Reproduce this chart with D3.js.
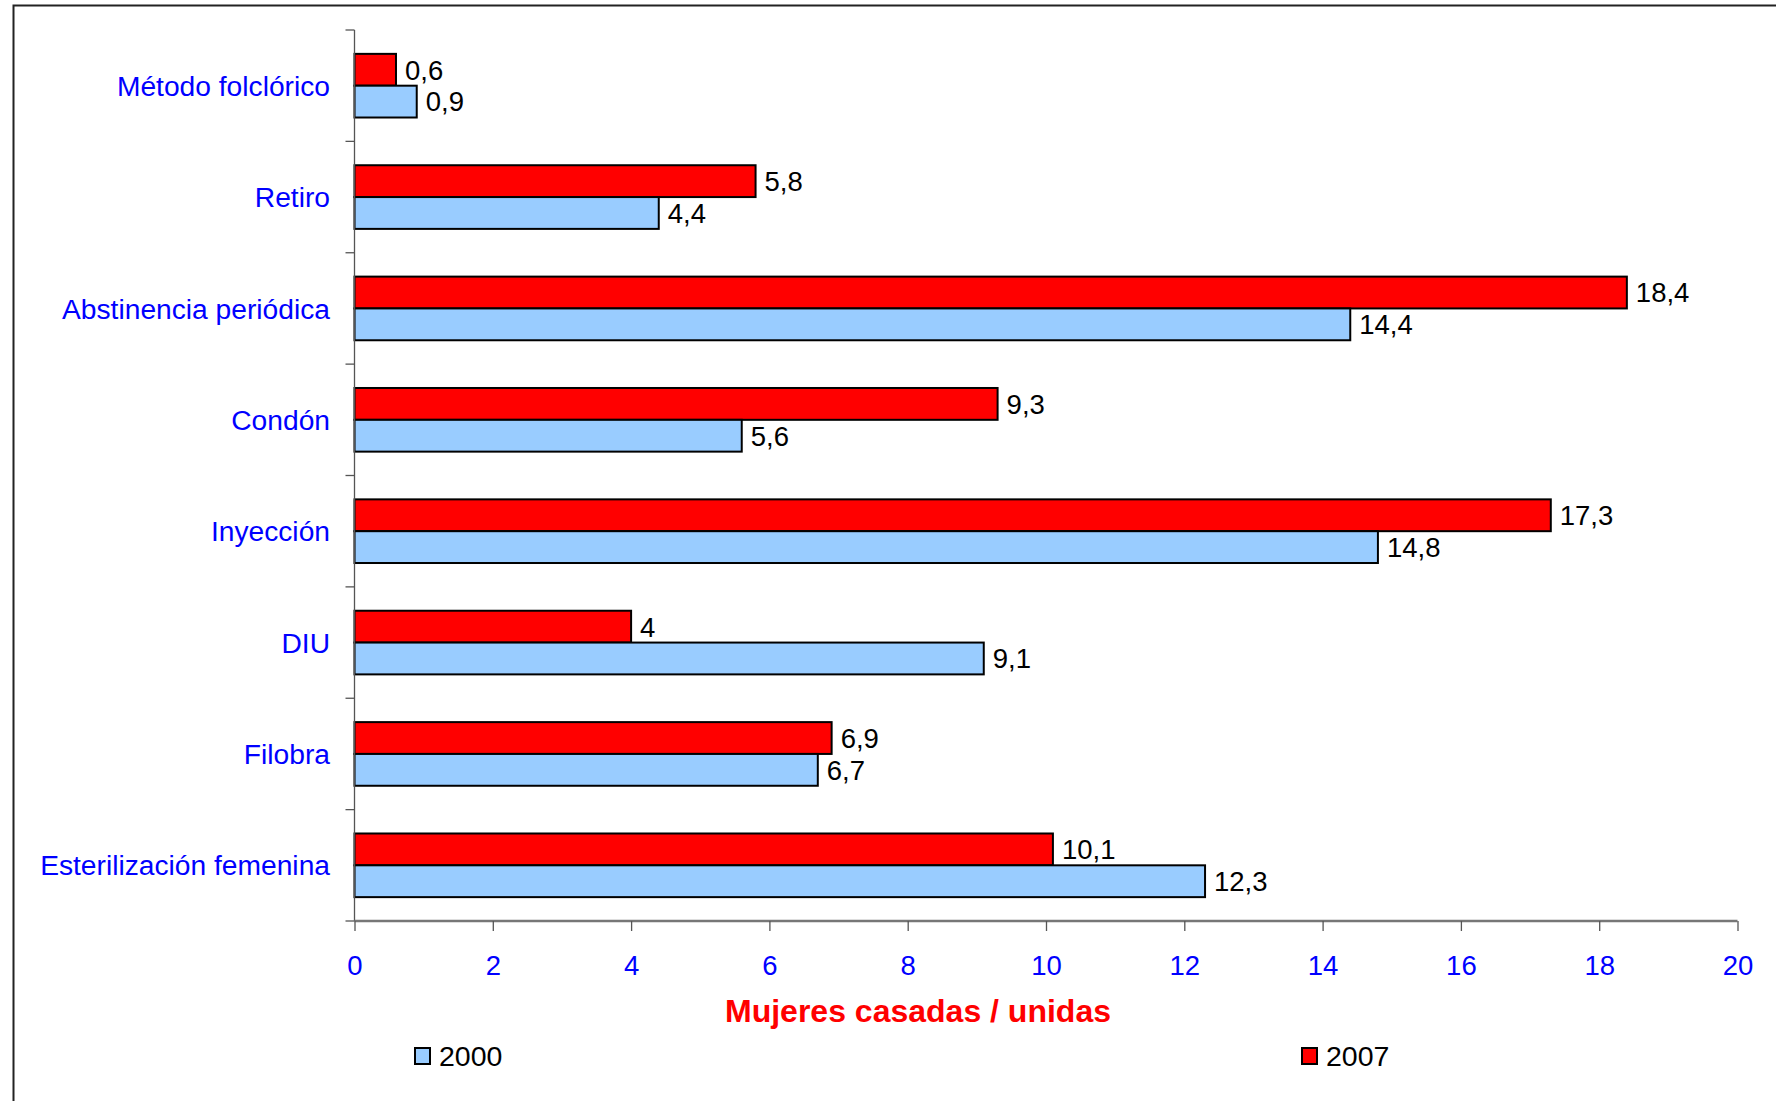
<!DOCTYPE html>
<html><head><meta charset="utf-8">
<script src="https://cdn.jsdelivr.net/npm/d3@7"></script>
<style>html,body{margin:0;padding:0;background:#fff;}svg{display:block;}</style>
</head><body>
<script>
const categories = ["Método folclórico","Retiro","Abstinencia periódica","Condón","Inyección","DIU","Filobra","Esterilización femenina"];
const series = ["2007","2000"];
const values2007 = [0.6, 5.8, 18.4, 9.3, 17.3, 4, 6.9, 10.1];
const values2000 = [0.9, 4.4, 14.4, 5.6, 14.8, 9.1, 6.7, 12.3];
const labels2007 = ["0,6","5,8","18,4","9,3","17,3","4","6,9","10,1"];
const labels2000 = ["0,9","4,4","14,4","5,6","14,8","9,1","6,7","12,3"];
const xTicks = [0,2,4,6,8,10,12,14,16,18,20];
const axisTitle = "Mujeres casadas / unidas";
const legendItems = ["2000","2007"];

const W = 1776, H = 1101;
const colors = {"2007":"#ff0000","2000":"#99ccff"};
const font = "'Liberation Sans', Arial, sans-serif";

const svg = d3.select("body").append("svg").attr("width", W).attr("height", H);
svg.append("rect").attr("width", W).attr("height", H).attr("fill", "#fff");

// frame (top and left edges visible)
svg.append("path").attr("d", `M13.5,${H} L13.5,5.5 L${W},5.5`).attr("fill","none").attr("stroke","#222").attr("stroke-width",2);

const m = {left:354.5, right:1737.5, top:30, bottom:921};
const x = d3.scaleLinear().domain([0,20]).range([m.left, m.right]);
const y = d3.scaleBand().domain(categories).range([m.top, m.bottom]).paddingInner(0).paddingOuter(0);
const yInner = d3.scaleBand().domain(series).range([0, y.bandwidth()]).paddingInner(0).paddingOuter(0.75);

const rows = categories.map((c,i)=>({cat:c, "2007":values2007[i], "2000":values2000[i], l2007:labels2007[i], l2000:labels2000[i]}));

// bars
const g = svg.append("g");
rows.forEach(r=>{
  series.forEach(s=>{
    g.append("rect")
      .attr("x", x(0)).attr("y", y(r.cat)+yInner(s))
      .attr("width", x(r[s])-x(0)).attr("height", yInner.bandwidth())
      .attr("fill", colors[s]).attr("stroke","#000").attr("stroke-width",2);
    g.append("text")
      .attr("x", x(r[s])+9).attr("y", y(r.cat)+yInner(s)+yInner.bandwidth()/2)
      .attr("dy","0.36em").attr("font-family",font).attr("font-size",27.5).attr("fill","#000")
      .text(r["l"+s]);
  });
});

// y axis line and ticks at band boundaries
svg.append("line").attr("x1",x(0)).attr("x2",x(0)).attr("y1",m.top).attr("y2",m.bottom).attr("stroke","#555").attr("stroke-width",1.3);
const bounds = categories.map(c=>y(c)).concat([m.bottom]);
svg.selectAll(".yt").data(bounds).join("line")
  .attr("x1",x(0)-9).attr("x2",x(0)).attr("y1",d=>d).attr("y2",d=>d)
  .attr("stroke","#555").attr("stroke-width",1.3);
// category labels
svg.selectAll(".cl").data(categories).join("text")
  .attr("x",330).attr("y",d=>y(d)+y.bandwidth()/2).attr("dy","0.36em")
  .attr("text-anchor","end").attr("font-family",font).attr("font-size",28.2).attr("fill","#0000ff")
  .text(d=>d);

// x axis
const xAxis = d3.axisBottom(x).tickValues(xTicks).tickSize(10).tickFormat(d=>d);
const xg = svg.append("g").attr("transform",`translate(0,${m.bottom})`).call(xAxis);
xg.select(".domain").attr("stroke","#777").attr("stroke-width",2.5).attr("d",`M${x(0)},0H${x(20)}`);
xg.selectAll(".tick line").attr("stroke","#555").attr("stroke-width",1.3);
xg.selectAll(".tick text").attr("font-family",font).attr("font-size",27.5).attr("fill","#0000ff").attr("y",44).attr("dy","0.36em");

// axis title
svg.append("text").attr("x",918).attr("y",1010).attr("dy","0.36em").attr("text-anchor","middle")
  .attr("font-family",font).attr("font-size",32).attr("font-weight","bold").attr("fill","#ff0000").text(axisTitle);

// legend
const legX = {"2000":415, "2007":1302};
legendItems.forEach(s=>{
  svg.append("rect").attr("x",legX[s]).attr("y",1048).attr("width",15).attr("height",16)
    .attr("fill",colors[s]).attr("stroke","#000").attr("stroke-width",2);
  svg.append("text").attr("x",legX[s]+24).attr("y",1056).attr("dy","0.36em")
    .attr("font-family",font).attr("font-size",28.5).attr("fill","#000").text(s);
});
</script>
</body></html>
